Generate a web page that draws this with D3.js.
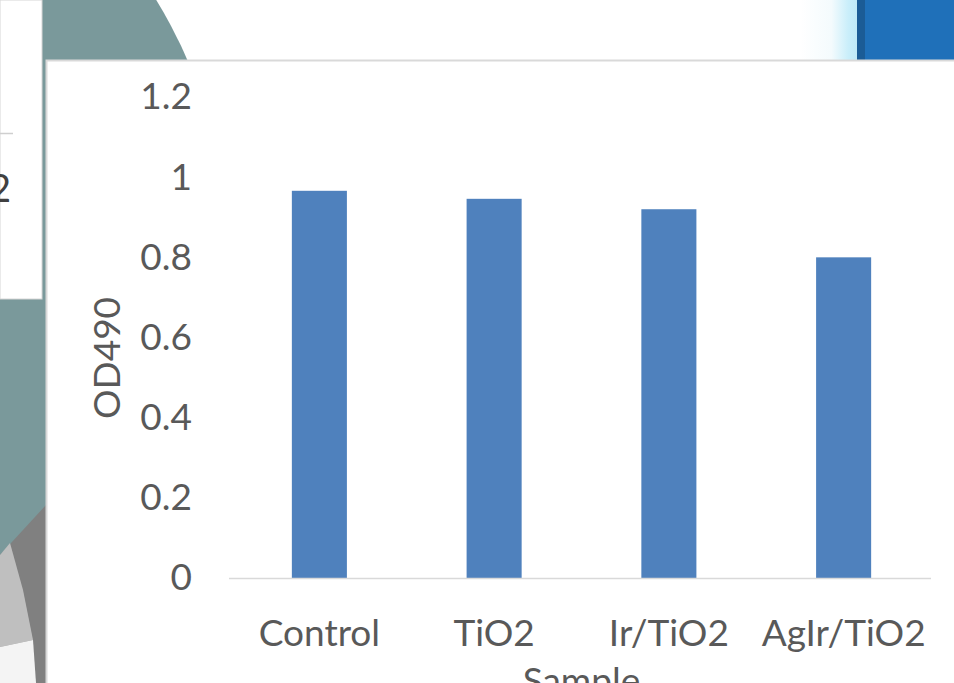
<!DOCTYPE html>
<html>
  <head>
    <script src="https://d3js.org/d3.v7.min.js"></script>
    <style>
      body { margin: 0; background: #fff; overflow: hidden; }
      svg text { font-family: Lato, "Open Sans", sans-serif; fill: #595959; }
    </style>
  </head>
  <body>
    <svg id="chart" width="954" height="683"></svg>

    <script>
      // chart data
      const samples = ["Control", "TiO2", "Ir/TiO2", "AgIr/TiO2"];
      const od490 = [0.966, 0.946, 0.920, 0.800];
      const yTicks = [0, 0.2, 0.4, 0.6, 0.8, 1, 1.2];

      const svg = d3.select("#chart");

      // --- slide background behind the chart ---
      const bg = svg.append("g");
      // teal circle on the left
      bg.append("circle").attr("cx", -250).attr("cy", 250).attr("r", 477).attr("fill", "#7a999b");
      // grey shapes in the lower left corner
      bg.append("path").attr("d", "M46,505 L0,555 L0,683 L46,683 Z").attr("fill", "#808080");
      bg.append("path").attr("d", "M0,555 L10,543 L23,590 L33,640 L0,647 Z").attr("fill", "#bfbfbf");
      bg.append("path").attr("d", "M0,647 L33,640 L36,683 L0,683 Z").attr("fill", "#f4f4f4");
      // white panel top left with a line and a clipped "2"
      bg.append("rect").attr("x", 0).attr("y", 0).attr("width", 42).attr("height", 299)
        .attr("fill", "#fff").attr("stroke", "#d6d6d6").attr("stroke-width", 1);
      bg.append("line").attr("x1", 0).attr("x2", 13).attr("y1", 133.5).attr("y2", 133.5)
        .attr("stroke", "#cfcfcf").attr("stroke-width", 1.5);
      bg.append("text").attr("x", 11).attr("y", 202).attr("text-anchor", "end")
        .style("font-size", "38px").style("fill", "#404040").text("2");
      // blue block top right
      const grad = svg.append("defs").append("linearGradient").attr("id", "blueEdge");
      grad.append("stop").attr("offset", "0%").attr("stop-color", "#ffffff");
      grad.append("stop").attr("offset", "55%").attr("stop-color", "#f4fbfd");
      grad.append("stop").attr("offset", "85%").attr("stop-color", "#c9eefa");
      grad.append("stop").attr("offset", "100%").attr("stop-color", "#bfe9f7");
      bg.append("rect").attr("x", 800).attr("y", 0).attr("width", 57).attr("height", 60).attr("fill", "url(#blueEdge)");
      bg.append("rect").attr("x", 857).attr("y", 0).attr("width", 97).attr("height", 60).attr("fill", "#1f70b9");
      bg.append("rect").attr("x", 857).attr("y", 0).attr("width", 8).attr("height", 60).attr("fill", "#1b5c96");

      // chart panel
      svg.append("rect").attr("x", 46.5).attr("y", 60.5).attr("width", 920).attr("height", 640)
        .attr("fill", "#fff").attr("stroke", "#d9d9d9").attr("stroke-width", 2);

      // --- scales ---
      const plot = { left: 232, right: 931, top: 97, bottom: 578 };
      const x = d3.scaleBand()
        .domain(samples)
        .range([plot.left, plot.right])
        .paddingInner(0.685)
        .paddingOuter(0.3425);
      const y = d3.scaleLinear()
        .domain([0, 1.2])
        .range([plot.bottom, plot.top]);

      // y tick labels
      const yAxis = svg.append("g")
        .attr("transform", "translate(192,0)")
        .call(d3.axisLeft(y).tickValues(yTicks).tickSize(0).tickPadding(0).tickFormat(d3.format("")));
      yAxis.select(".domain").remove();
      yAxis.selectAll("text").style("font-size", "37px").style("font-family", "Lato, sans-serif").attr("fill", "#595959");

      // bars
      svg.selectAll("rect.bar")
        .data(samples)
        .join("rect")
          .attr("class", "bar")
          .attr("x", d => x(d))
          .attr("width", x.bandwidth())
          .attr("y", (d, i) => y(od490[i]))
          .attr("height", (d, i) => y(0) - y(od490[i]))
          .attr("fill", "#4f81bd");

      // x axis
      const xAxis = svg.append("g")
        .attr("transform", `translate(0,${plot.bottom})`)
        .call(d3.axisBottom(x).tickSize(0).tickPadding(42).tickSizeOuter(0));
      xAxis.select(".domain").attr("stroke", "#d9d9d9").attr("stroke-width", 1.5)
        .attr("d", `M${plot.left - 3},0.5H${plot.right}`);
      xAxis.selectAll("text").style("font-size", "37px").style("font-family", "Lato, sans-serif").attr("fill", "#595959");

      // axis titles
      svg.append("text")
        .attr("transform", "translate(120,358) rotate(-90)")
        .attr("text-anchor", "middle")
        .style("font-size", "37px")
        .text("OD490");

      svg.append("text")
        .attr("x", (plot.left + plot.right) / 2)
        .attr("y", 694)
        .attr("text-anchor", "middle")
        .style("font-size", "37px")
        .text("Sample");
    </script>
  </body>
</html>
